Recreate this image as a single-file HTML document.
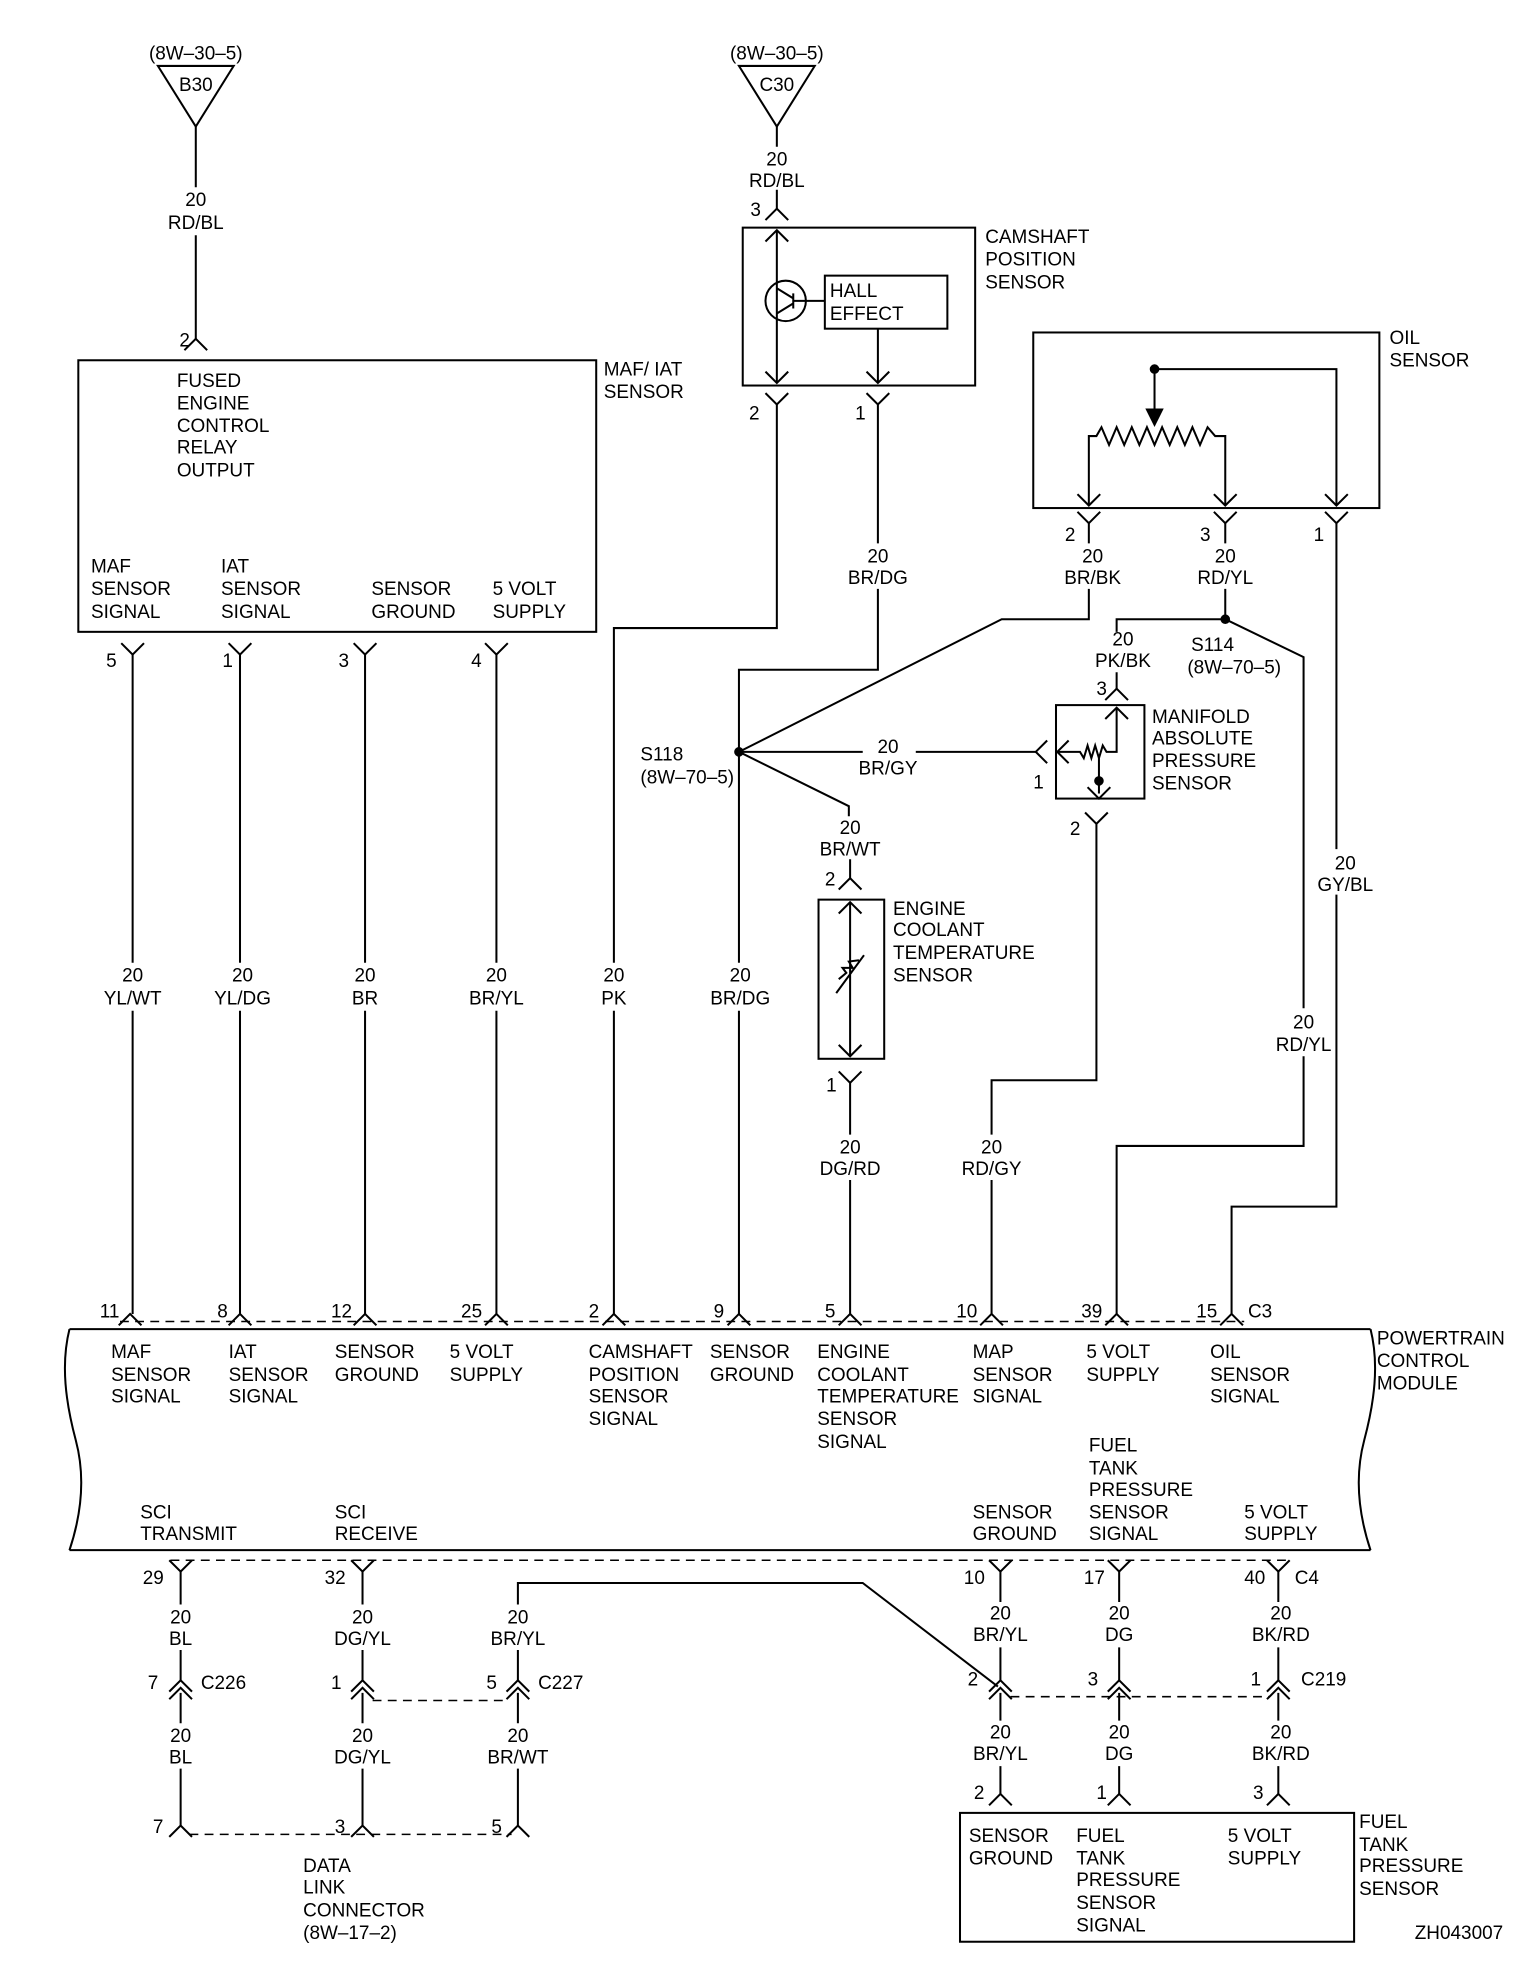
<!DOCTYPE html>
<html><head><meta charset="utf-8"><style>
html,body{margin:0;padding:0;background:#fff}
svg{display:block}
text{font-family:"Liberation Sans",Arial,sans-serif;font-size:15px;fill:#000}
.c{text-anchor:middle}
</style></head><body>
<svg width="1536" height="1966" viewBox="0 0 1216 1556" xmlns="http://www.w3.org/2000/svg">
<defs>
<path id="yu" d="M-9,-9 L0,0 L9,-9" fill="none" stroke="#000" stroke-width="1.6"/>
<path id="yd" d="M-9,9 L0,0 L9,9" fill="none" stroke="#000" stroke-width="1.6"/>
<path id="dc" d="M-9,4 L0,-5 L9,4 M-9,10 L0,1 L9,10" fill="none" stroke="#000" stroke-width="1.6"/>
</defs>
<g fill="none" stroke="#000" stroke-width="1.6">
<path d="M125,52 L185,52 L155,100 Z"/>
<path d="M585,52 L645,52 L615,100 Z"/>
<path d="M155,100 V148 M155,186 V268"/>
<rect x="62" y="285" width="410" height="215"/>
<path d="M105,518 V762 M105,800 V1040"/>
<path d="M190,518 V762 M190,800 V1040"/>
<path d="M289,518 V762 M289,800 V1040"/>
<path d="M393,518 V762 M393,800 V1040"/>
<path d="M615,100 V116 M615,150 V165"/>
<rect x="588" y="180" width="184" height="125"/>
<path d="M615,182 V303"/>
<circle cx="622" cy="238" r="16"/>
<path d="M615,228 L628,236 V240 L615,248 M628,232 V244 M628,238 H653"/>
<rect x="653" y="218" width="97" height="42"/>
<path d="M695,260 V303"/>
<use href="#yd" x="615" y="182"/><use href="#yu" x="615" y="303"/><use href="#yu" x="695" y="303"/>
<path d="M615,320 V497 H486 V762 M486,800 V1040"/>
<path d="M695,320 V430 M695,466 V530 H585 V762 M585,800 V1040"/>
<path d="M585,595 L793,490 H862 V466 M862,430 V414"/>
<path d="M585,595 H683 M725,595 H820"/>
<path d="M585,595 L672,638 V646 M673,680 V695"/>
<rect x="648" y="712" width="52" height="126"/>
<path d="M673,714 V836 M664,775 L670,770 L667,766 L675,766 L672,761 L680,760 M662,786 L684,756"/>
<use href="#yd" x="673" y="714"/><use href="#yu" x="673" y="836"/>
<path d="M673,857 V898 M673,934 V1040"/>
<rect x="818" y="263" width="274" height="139"/>
<path d="M862,400 V345 H868 L872,338 L878,352 L884,338 L890,352 L896,338 L902,352 L908,338 L914,352 L920,338 L926,352 L932,338 L938,352 L944,338 L950,352 L956,338 L962,345 H970 V400"/>
<path d="M914,292 V328 M914,292 H1058 V400"/>
<path d="M908,324 L920,324 L914,336 Z" fill="#000"/>
<use href="#yu" x="862" y="400"/><use href="#yu" x="970" y="400"/><use href="#yu" x="1058" y="400"/>
<path d="M970,414 V430 M970,466 V490"/>
<path d="M970,490 H884 V500 M884,532 V545"/>
<path d="M970,490 L1032,520 V798 M1032,836 V907 H884 V1040"/>
<path d="M1058,414 V672 M1058,708 V955 H975 V1040"/>
<rect x="836" y="558" width="70" height="74"/>
<path d="M884,560 V595 H876 L873,590 L870,600 L867,590 L864,600 L861,590 L858,600 L855,595 H837"/>
<path d="M870,600 V628"/>
<use href="#yd" x="884" y="560"/>
<use href="#yu" x="870" y="632"/>
<path d="M846,586 L837,595 L846,604 M829,586 L820,595 L829,604"/>
<path d="M868,652 V855 H785 V898 M785,934 V1040"/>
<path d="M55,1052 H1085 M55,1227 H1085"/>
<path d="M55,1052 C48,1080 52,1110 60,1140 C68,1170 64,1200 55,1227"/>
<path d="M1085,1052 C1092,1080 1088,1110 1080,1140 C1072,1170 1076,1200 1085,1227"/>
<path d="M95,1046 H985" stroke-dasharray="7,5" stroke-width="1.2"/>
<path d="M135,1235 H1020" stroke-dasharray="7,5" stroke-width="1.2"/>
<path d="M143,1244 V1270 M143,1306 V1330 M143,1340 V1364 M143,1400 V1445"/>
<path d="M287,1244 V1270 M287,1306 V1330 M287,1340 V1364 M287,1400 V1445"/>
<path d="M410,1270 V1253 H683 L790,1335 M410,1306 V1330 M410,1340 V1364 M410,1400 V1445"/>
<path d="M792,1244 V1268 M792,1304 V1330 M792,1340 V1362 M792,1398 V1420"/>
<path d="M886,1244 V1268 M886,1304 V1330 M886,1340 V1362 M886,1398 V1420"/>
<path d="M1012,1244 V1268 M1012,1304 V1330 M1012,1340 V1362 M1012,1398 V1420"/>
<path d="M295,1346 H400 M800,1343 H1005 M150,1452 H405" stroke-dasharray="7,5" stroke-width="1.2"/>
<rect x="760" y="1435" width="312" height="102"/>
<circle cx="585" cy="595" r="3" fill="#000"/>
<circle cx="970" cy="490" r="3" fill="#000"/>
<circle cx="914" cy="292" r="3" fill="#000"/>
<circle cx="870" cy="618" r="3" fill="#000"/>
</g>
<use href="#yd" x="155" y="268"/>
<use href="#yd" x="615" y="165"/>
<use href="#yu" x="105" y="518"/><use href="#yu" x="190" y="518"/><use href="#yu" x="289" y="518"/><use href="#yu" x="393" y="518"/>
<use href="#yu" x="615" y="320"/><use href="#yu" x="695" y="320"/>
<use href="#yu" x="862" y="414"/><use href="#yu" x="970" y="414"/><use href="#yu" x="1058" y="414"/>
<use href="#yd" x="884" y="545"/><use href="#yd" x="673" y="695"/><use href="#yu" x="673" y="857"/><use href="#yu" x="868" y="652"/>
<use href="#yd" x="103" y="1040"/><use href="#yd" x="190" y="1040"/><use href="#yd" x="289" y="1040"/><use href="#yd" x="393" y="1040"/><use href="#yd" x="486" y="1040"/><use href="#yd" x="585" y="1040"/><use href="#yd" x="673" y="1040"/><use href="#yd" x="785" y="1040"/><use href="#yd" x="884" y="1040"/><use href="#yd" x="975" y="1040"/>
<use href="#yu" x="143" y="1244"/><use href="#yu" x="287" y="1244"/><use href="#yu" x="792" y="1244"/><use href="#yu" x="886" y="1244"/><use href="#yu" x="1012" y="1244"/>
<use href="#dc" x="143" y="1335"/><use href="#dc" x="287" y="1335"/><use href="#dc" x="410" y="1335"/>
<use href="#dc" x="792" y="1335"/><use href="#dc" x="886" y="1335"/><use href="#dc" x="1012" y="1335"/>
<use href="#yd" x="792" y="1420"/><use href="#yd" x="886" y="1420"/><use href="#yd" x="1012" y="1420"/>
<use href="#yd" x="143" y="1445"/><use href="#yd" x="287" y="1445"/><use href="#yd" x="410" y="1445"/>
<g>
<text x="155" y="47" class="c">(8W–30–5)</text><text x="155" y="72" class="c">B30</text>
<text x="615" y="47" class="c">(8W–30–5)</text><text x="615" y="72" class="c">C30</text>
<text x="155" y="163" class="c">20</text><text x="155" y="181" class="c">RD/BL</text>
<text x="142" y="274">2</text>
<text x="478" y="297">MAF/ IAT</text><text x="478" y="315">SENSOR</text>
<text x="140" y="306">FUSED</text><text x="140" y="324">ENGINE</text><text x="140" y="342">CONTROL</text><text x="140" y="359">RELAY</text><text x="140" y="377">OUTPUT</text>
<text x="72" y="453">MAF</text><text x="72" y="471">SENSOR</text><text x="72" y="489">SIGNAL</text>
<text x="175" y="453">IAT</text><text x="175" y="471">SENSOR</text><text x="175" y="489">SIGNAL</text>
<text x="294" y="471">SENSOR</text><text x="294" y="489">GROUND</text>
<text x="390" y="471">5 VOLT</text><text x="390" y="489">SUPPLY</text>
<text x="84" y="528">5</text><text x="176" y="528">1</text><text x="268" y="528">3</text><text x="373" y="528">4</text>
<text x="105" y="777" class="c">20</text><text x="105" y="795" class="c">YL/WT</text>
<text x="192" y="777" class="c">20</text><text x="192" y="795" class="c">YL/DG</text>
<text x="289" y="777" class="c">20</text><text x="289" y="795" class="c">BR</text>
<text x="393" y="777" class="c">20</text><text x="393" y="795" class="c">BR/YL</text>
<text x="486" y="777" class="c">20</text><text x="486" y="795" class="c">PK</text>
<text x="586" y="777" class="c">20</text><text x="586" y="795" class="c">BR/DG</text>
<text x="615" y="131" class="c">20</text><text x="615" y="148" class="c">RD/BL</text>
<text x="594" y="171">3</text>
<text x="780" y="192">CAMSHAFT</text><text x="780" y="210">POSITION</text><text x="780" y="228">SENSOR</text>
<text x="657" y="235">HALL</text><text x="657" y="253">EFFECT</text>
<text x="593" y="332">2</text><text x="677" y="332">1</text>
<text x="695" y="445" class="c">20</text><text x="695" y="462" class="c">BR/DG</text>
<text x="1100" y="272">OIL</text><text x="1100" y="290">SENSOR</text>
<text x="843" y="428">2</text><text x="950" y="428">3</text><text x="1040" y="428">1</text>
<text x="865" y="445" class="c">20</text><text x="865" y="462" class="c">BR/BK</text>
<text x="970" y="445" class="c">20</text><text x="970" y="462" class="c">RD/YL</text>
<text x="889" y="511" class="c">20</text><text x="889" y="528" class="c">PK/BK</text>
<text x="943" y="515">S114</text><text x="940" y="533">(8W–70–5)</text>
<text x="868" y="550">3</text>
<text x="912" y="572">MANIFOLD</text><text x="912" y="589">ABSOLUTE</text><text x="912" y="607">PRESSURE</text><text x="912" y="625">SENSOR</text>
<text x="818" y="624">1</text><text x="847" y="661">2</text>
<text x="507" y="602">S118</text><text x="507" y="620">(8W–70–5)</text>
<text x="703" y="596" class="c">20</text><text x="703" y="613" class="c">BR/GY</text>
<text x="673" y="660" class="c">20</text><text x="673" y="677" class="c">BR/WT</text>
<text x="653" y="701">2</text>
<text x="707" y="724">ENGINE</text><text x="707" y="741">COOLANT</text><text x="707" y="759">TEMPERATURE</text><text x="707" y="777">SENSOR</text>
<text x="654" y="864">1</text>
<text x="1065" y="688" class="c">20</text><text x="1065" y="705" class="c">GY/BL</text>
<text x="1032" y="814" class="c">20</text><text x="1032" y="832" class="c">RD/YL</text>
<text x="673" y="913" class="c">20</text><text x="673" y="930" class="c">DG/RD</text>
<text x="785" y="913" class="c">20</text><text x="785" y="930" class="c">RD/GY</text>
<text x="79" y="1043">11</text><text x="172" y="1043">8</text><text x="262" y="1043">12</text><text x="365" y="1043">25</text><text x="466" y="1043">2</text><text x="565" y="1043">9</text><text x="653" y="1043">5</text><text x="757" y="1043">10</text><text x="856" y="1043">39</text><text x="947" y="1043">15</text><text x="988" y="1043">C3</text>
<text x="1090" y="1064">POWERTRAIN</text><text x="1090" y="1082">CONTROL</text><text x="1090" y="1100">MODULE</text>
<text x="88" y="1075">MAF</text><text x="88" y="1093">SENSOR</text><text x="88" y="1110">SIGNAL</text>
<text x="181" y="1075">IAT</text><text x="181" y="1093">SENSOR</text><text x="181" y="1110">SIGNAL</text>
<text x="265" y="1075">SENSOR</text><text x="265" y="1093">GROUND</text>
<text x="356" y="1075">5 VOLT</text><text x="356" y="1093">SUPPLY</text>
<text x="466" y="1075">CAMSHAFT</text><text x="466" y="1093">POSITION</text><text x="466" y="1110">SENSOR</text><text x="466" y="1128">SIGNAL</text>
<text x="562" y="1075">SENSOR</text><text x="562" y="1093">GROUND</text>
<text x="647" y="1075">ENGINE</text><text x="647" y="1093">COOLANT</text><text x="647" y="1110">TEMPERATURE</text><text x="647" y="1128">SENSOR</text><text x="647" y="1146">SIGNAL</text>
<text x="770" y="1075">MAP</text><text x="770" y="1093">SENSOR</text><text x="770" y="1110">SIGNAL</text>
<text x="860" y="1075">5 VOLT</text><text x="860" y="1093">SUPPLY</text>
<text x="958" y="1075">OIL</text><text x="958" y="1093">SENSOR</text><text x="958" y="1110">SIGNAL</text>
<text x="862" y="1149">FUEL</text><text x="862" y="1167">TANK</text><text x="862" y="1184">PRESSURE</text><text x="862" y="1202">SENSOR</text><text x="862" y="1219">SIGNAL</text>
<text x="111" y="1202">SCI</text><text x="111" y="1219">TRANSMIT</text>
<text x="265" y="1202">SCI</text><text x="265" y="1219">RECEIVE</text>
<text x="770" y="1202">SENSOR</text><text x="770" y="1219">GROUND</text>
<text x="985" y="1202">5 VOLT</text><text x="985" y="1219">SUPPLY</text>
<text x="113" y="1254">29</text><text x="257" y="1254">32</text><text x="763" y="1254">10</text><text x="858" y="1254">17</text><text x="985" y="1254">40</text><text x="1025" y="1254">C4</text>
<text x="143" y="1285" class="c">20</text><text x="143" y="1302" class="c">BL</text>
<text x="287" y="1285" class="c">20</text><text x="287" y="1302" class="c">DG/YL</text>
<text x="410" y="1285" class="c">20</text><text x="410" y="1302" class="c">BR/YL</text>
<text x="792" y="1282" class="c">20</text><text x="792" y="1299" class="c">BR/YL</text>
<text x="886" y="1282" class="c">20</text><text x="886" y="1299" class="c">DG</text>
<text x="1014" y="1282" class="c">20</text><text x="1014" y="1299" class="c">BK/RD</text>
<text x="117" y="1337">7</text><text x="159" y="1337">C226</text>
<text x="262" y="1337">1</text><text x="385" y="1337">5</text><text x="426" y="1337">C227</text>
<text x="766" y="1334">2</text><text x="861" y="1334">3</text><text x="990" y="1334">1</text><text x="1030" y="1334">C219</text>
<text x="143" y="1379" class="c">20</text><text x="143" y="1396" class="c">BL</text>
<text x="287" y="1379" class="c">20</text><text x="287" y="1396" class="c">DG/YL</text>
<text x="410" y="1379" class="c">20</text><text x="410" y="1396" class="c">BR/WT</text>
<text x="792" y="1376" class="c">20</text><text x="792" y="1393" class="c">BR/YL</text>
<text x="886" y="1376" class="c">20</text><text x="886" y="1393" class="c">DG</text>
<text x="1014" y="1376" class="c">20</text><text x="1014" y="1393" class="c">BK/RD</text>
<text x="771" y="1424">2</text><text x="868" y="1424">1</text><text x="992" y="1424">3</text>
<text x="121" y="1451">7</text><text x="265" y="1451">3</text><text x="389" y="1451">5</text>
<text x="240" y="1482">DATA</text><text x="240" y="1499">LINK</text><text x="240" y="1517">CONNECTOR</text><text x="240" y="1535">(8W–17–2)</text>
<text x="767" y="1458">SENSOR</text><text x="767" y="1476">GROUND</text>
<text x="852" y="1458">FUEL</text><text x="852" y="1476">TANK</text><text x="852" y="1493">PRESSURE</text><text x="852" y="1511">SENSOR</text><text x="852" y="1529">SIGNAL</text>
<text x="972" y="1458">5 VOLT</text><text x="972" y="1476">SUPPLY</text>
<text x="1076" y="1447">FUEL</text><text x="1076" y="1465">TANK</text><text x="1076" y="1482">PRESSURE</text><text x="1076" y="1500">SENSOR</text>
<text x="1120" y="1535">ZH043007</text>
</g>
</svg>
</body></html>
